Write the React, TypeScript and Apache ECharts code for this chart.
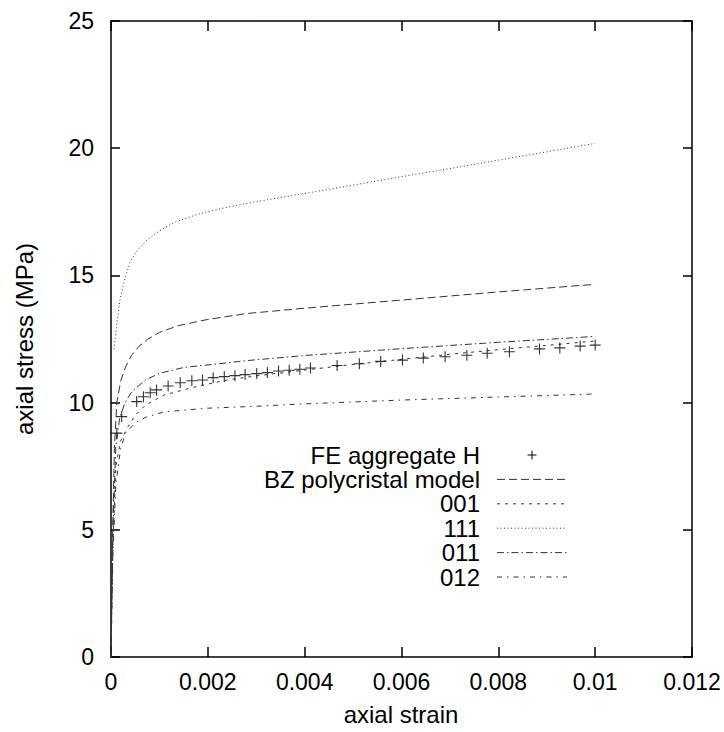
import React, { useEffect, useRef } from 'react';
import * as echarts from 'echarts';

const FONT = "'Liberation Sans', Arial, Helvetica, sans-serif";

// x: axial strain, y: axial stress (MPa)
const xTicks = { min: 0, max: 0.012, interval: 0.002 };
const yTicks = { min: 0, max: 25, interval: 5 };

const feAggregateH: [number, number][] = [
  [0.00012, 8.8], [0.00022, 9.45], [0.00053, 10.04], [0.00067, 10.23], [0.00081, 10.39],
  [0.00094, 10.5], [0.00118, 10.65], [0.00143, 10.78], [0.00167, 10.86], [0.00189, 10.89],
  [0.00211, 10.98], [0.00234, 11.02], [0.00256, 11.06], [0.00277, 11.1], [0.00301, 11.14],
  [0.00323, 11.18], [0.00346, 11.24], [0.00368, 11.27], [0.0039, 11.31], [0.00412, 11.36],
  [0.00467, 11.46], [0.00513, 11.53], [0.00557, 11.62], [0.00602, 11.67], [0.00645, 11.75],
  [0.0069, 11.8], [0.00735, 11.86], [0.00777, 11.94], [0.00823, 12.0], [0.00885, 12.11],
  [0.00927, 12.15], [0.00969, 12.22], [0.01, 12.26],
];

const bzModel: [number, number][] = [
  [0, 0], [0.00003, 4.5], [0.00007, 8.2], [0.00012, 10.0], [0.0002, 10.85], [0.0003, 11.4],
  [0.00042, 11.85], [0.00057, 12.2], [0.00075, 12.48], [0.001, 12.76], [0.0014, 13.03],
  [0.002, 13.27], [0.0028, 13.5], [0.004, 13.71], [0.006, 14.03], [0.008, 14.35], [0.01, 14.65],
];

const s001: [number, number][] = [
  [0, 0], [0.00004, 4.5], [0.0001, 7.5], [0.0002, 8.5], [0.00033, 8.99], [0.0005, 9.5],
  [0.00071, 9.9], [0.0011, 10.3], [0.0017, 10.6], [0.0024, 10.89], [0.003, 11.05],
  [0.004, 11.28], [0.005, 11.5], [0.006, 11.7], [0.007, 11.9], [0.008, 12.08], [0.009, 12.25],
  [0.01, 12.42],
];

const s111: [number, number][] = [
  [0.00006, 12.1], [0.00012, 13.1], [0.00019, 14.1], [0.00029, 14.9], [0.0004, 15.55],
  [0.00055, 16.0], [0.00075, 16.4], [0.001, 16.75], [0.0013, 17.08], [0.0018, 17.41],
  [0.0024, 17.68], [0.003, 17.9], [0.004, 18.22], [0.005, 18.55], [0.006, 18.88], [0.007, 19.2],
  [0.008, 19.53], [0.009, 19.86], [0.01, 20.19],
];

const s011: [number, number][] = [
  [0, 0], [0.00004, 5], [0.0001, 8.3], [0.00018, 9.4], [0.00029, 10.0], [0.00043, 10.43],
  [0.00071, 10.89], [0.001, 11.15], [0.0015, 11.38], [0.0022, 11.52], [0.0028, 11.65],
  [0.004, 11.85], [0.006, 12.12], [0.008, 12.37], [0.01, 12.6],
];

const s012: [number, number][] = [
  [0, 0], [0.00004, 4], [0.0001, 6.8], [0.0002, 8.2], [0.0003, 8.8], [0.0005, 9.2],
  [0.00071, 9.42], [0.0011, 9.64], [0.002, 9.78], [0.0028, 9.84], [0.004, 9.95],
  [0.006, 10.1], [0.008, 10.22], [0.01, 10.34],
];

const lineNames = ['BZ polycristal model', '001', '111', '011', '012'];
const lineData = [bzModel, s001, s111, s011, s012];
const lineDashes: number[][] = [[8, 4], [3, 5], [1, 2.5], [7, 3, 1.5, 3], [5, 5, 1.5, 5]];
const LINE_COLOR = '#333';

const CROSS = 'path://M4.5,0H5.5V10H4.5ZM0,4.5H10V5.5H0Z';

export default function App() {
  const ref = useRef<HTMLDivElement>(null);
  useEffect(() => {
    const chart = echarts.init(ref.current!, null, { renderer: 'svg' });

    const axisLine = { show: true, onZero: false, lineStyle: { color: '#000', width: 1.5 } };
    const labelStyle = { fontSize: 23, color: '#000', fontFamily: FONT };

    const legendX = 480;
    const sampleX1 = 497;
    const sampleX2 = 567;
    const rowY0 = 455;
    const rowDy = 24.4;
    const legendItems: any[] = [];
    const allNames = ['FE aggregate H', ...lineNames];
    allNames.forEach((name, i) => {
      const y = rowY0 + i * rowDy;
      legendItems.push({
        type: 'text',
        style: {
          text: name, x: legendX, y, align: 'right', verticalAlign: 'middle',
          textAlign: 'right', textVerticalAlign: 'middle',
          fontSize: 24, fontFamily: FONT, fill: '#000',
        },
      });
      if (i === 0) {
        const cx = (sampleX1 + sampleX2) / 2;
        legendItems.push({ type: 'line', shape: { x1: cx - 4.5, y1: y, x2: cx + 4.5, y2: y }, style: { stroke: '#000', lineWidth: 1 } });
        legendItems.push({ type: 'line', shape: { x1: cx, y1: y - 4.5, x2: cx, y2: y + 4.5 }, style: { stroke: '#000', lineWidth: 1 } });
      } else {
        legendItems.push({
          type: 'line',
          shape: { x1: sampleX1, y1: y, x2: sampleX2, y2: y },
          style: { stroke: LINE_COLOR, lineWidth: 1, lineDash: lineDashes[i - 1] },
        });
      }
    });

    const fmt = (v: number) => (v === 0 ? '0' : String(+v.toFixed(3)));

    chart.setOption({
      animation: false,
      backgroundColor: '#fff',
      grid: { left: 111, right: 32, top: 21, bottom: 75, containLabel: false },
      xAxis: [
        {
          type: 'value', position: 'bottom', ...xTicks,
          axisLine, axisTick: { show: true, inside: true, length: 10, lineStyle: { color: '#000', width: 1.5 } },
          splitLine: { show: false },
          axisLabel: { ...labelStyle, margin: 13, formatter: fmt, showMinLabel: true, showMaxLabel: true },
        },
        {
          type: 'value', position: 'top', ...xTicks,
          axisLine, axisTick: { show: true, inside: true, length: 10, lineStyle: { color: '#000', width: 1.5 } },
          splitLine: { show: false }, axisLabel: { show: false },
        },
      ],
      yAxis: [
        {
          type: 'value', position: 'left', ...yTicks,
          axisLine, axisTick: { show: true, inside: true, length: 9, lineStyle: { color: '#000', width: 1.5 } },
          splitLine: { show: false },
          axisLabel: { ...labelStyle, margin: 17, showMinLabel: true, showMaxLabel: true },
        },
        {
          type: 'value', position: 'right', ...yTicks,
          axisLine, axisTick: { show: true, inside: true, length: 9, lineStyle: { color: '#000', width: 1.5 } },
          splitLine: { show: false }, axisLabel: { show: false },
        },
      ],
      series: [
        ...lineData.map((d, i) => ({
          name: lineNames[i],
          type: 'line',
          xAxisIndex: 0,
          yAxisIndex: 0,
          data: d,
          symbol: 'none',
          showSymbol: false,
          lineStyle: { color: LINE_COLOR, width: 1, type: lineDashes[i] },
          z: 2,
        })),
        {
          name: 'FE aggregate H',
          type: 'scatter',
          xAxisIndex: 0,
          yAxisIndex: 0,
          data: feAggregateH,
          symbol: CROSS,
          symbolSize: 11,
          itemStyle: { color: '#000' },
          z: 3,
        },
      ],
      graphic: [
        {
          type: 'text',
          rotation: Math.PI / 2,
          x: 24, y: 339,
          style: {
            text: 'axial stress (MPa)', align: 'center', verticalAlign: 'middle',
            textAlign: 'center', textVerticalAlign: 'middle',
            fontSize: 24, fontFamily: FONT, fill: '#000',
          },
        },
        {
          type: 'text',
          x: 401, y: 714,
          style: {
            text: 'axial strain', align: 'center', verticalAlign: 'middle',
            textAlign: 'center', textVerticalAlign: 'middle',
            fontSize: 24, fontFamily: FONT, fill: '#000',
          },
        },
        ...legendItems,
      ],
    });
    return () => chart.dispose();
  }, []);
  return <div ref={ref} style={{ position: 'absolute', left: 0, top: 0, width: 724, height: 732 }} />;
}
